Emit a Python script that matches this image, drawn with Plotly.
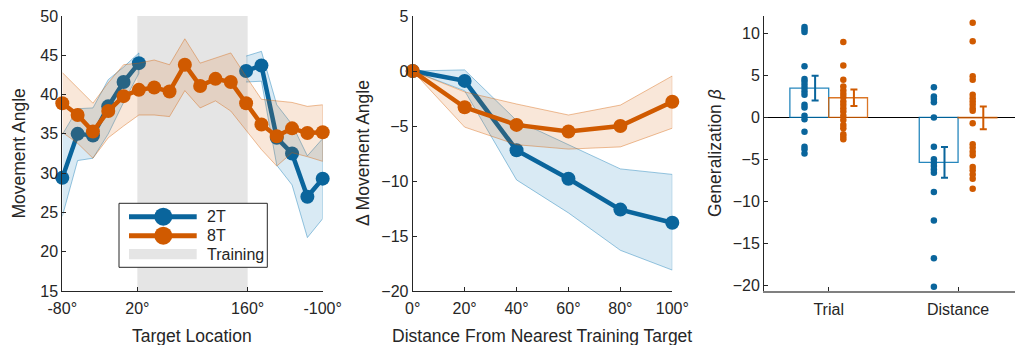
import plotly.graph_objects as go

# ---------------- data ----------------
# Panel 1: movement angle by target location
loc_deg = [-80, -60, -40, -20, 0, 20, 40, 60, 80, 100, 120, 140, 160, 180, 200, 220, 240, 260]
loc_tickvals = [-80, 18, 162, 260]
loc_ticktext = ["-80°", "20°", "160°", "-100°"]
training_span = [18, 162]

t2_mean = [29.4, 35.0, 34.8, 38.5, 41.6, 44.0, None, None, None, None, None, None, 43.0, 43.7, 34.5, 32.5, 27.0, 29.3]
t2_upper = [34.9, 38.2, 38.3, 41.9, 43.5, 45.3, None, None, None, None, None, None, 44.9, 45.5, 38.7, 36.2, 32.2, 34.4]
t2_lower = [24.5, 31.6, 31.9, 35.0, 39.0, 42.7, None, None, None, None, None, None, 41.6, 41.7, 31.0, 28.5, 21.8, 24.2]

t8_mean = [38.9, 37.4, 35.3, 37.9, 39.8, 40.6, 40.9, 40.4, 43.8, 41.1, 42.0, 41.6, 38.9, 36.2, 34.7, 35.7, 35.1, 35.2]
t8_upper = [42.8, 40.8, 38.9, 41.5, 43.8, 44.0, 44.4, 43.8, 47.1, 44.0, 44.7, 45.3, 42.3, 39.4, 39.2, 39.0, 38.5, 38.7]
t8_lower = [35.2, 33.8, 31.9, 34.5, 36.0, 37.4, 37.4, 37.2, 40.5, 38.3, 39.2, 37.9, 35.5, 33.0, 30.9, 32.6, 32.1, 31.5]

# Panel 2: change in movement angle vs distance from nearest training target
dist_deg = [0, 20, 40, 60, 80, 100]
dist_ticktext = ["0°", "20°", "40°", "60°", "80°", "100°"]
d2_mean = [0.0, -0.9, -7.2, -9.8, -12.6, -13.8]
d2_upper = [0.0, 0.1, -4.5, -6.7, -8.9, -9.4]
d2_lower = [0.0, -1.8, -9.9, -12.9, -16.3, -18.1]
d8_mean = [0.0, -3.3, -4.9, -5.5, -5.0, -2.8]
d8_upper = [0.0, -1.9, -3.0, -4.0, -3.1, -0.45]
d8_lower = [0.0, -5.1, -6.7, -7.1, -6.9, -5.2]

# Panel 3: generalization beta
beta_cats = ["Trial", "Distance"]
beta2_mean = [3.5, -5.35]
beta2_sem = [1.47, 1.83]
beta8_mean = [2.35, -0.05]
beta8_sem = [0.98, 1.37]
beta2_trial = [10.8, 10.5, 10.2, 6.1, 4.6, 4.3, 3.9, 3.5, 3.1, 2.7, 1.5, 1.2, 0.2, -0.2, -1.7, -3.5, -3.8, -4.3]
beta8_trial = [9.0, 6.2, 4.5, 3.7, 3.2, 2.8, 2.4, 1.9, 1.5, 1.1, 0.7, 0.2, -0.3, -0.9, -1.3, -2.0, -2.3, -2.6]
beta2_dist = [3.6, 2.5, 2.2, 1.8, 0.0, -3.5, -5.0, -5.4, -5.8, -6.2, -6.6, -8.9, -12.3, -16.8, -20.2]
beta8_dist = [11.3, 9.1, 4.9, 4.5, 2.7, 2.3, 1.9, 1.5, 1.1, 0.8, -0.7, -3.2, -3.6, -4.1, -4.5, -5.9, -6.3, -6.8, -7.3, -8.5]

# ---------------- style ----------------
BLUE = "#0a659c"
ORANGE = "#d05a00"
BLUE_RGB = "0,114,178"
ORANGE_RGB = "213,94,0"
AX = "#262626"
FONT = "Liberation Sans, Arial, Helvetica, sans-serif"
W, H = 1015, 345
T, B = 16, 54


def px(x):
    return x / W


def py(y):
    return (H - B - y) / (H - T - B)


fig = go.Figure()


def add_band(xs, up, lo, rgb, xa, ya):
    seg = []
    segs = []
    for x, u, l in zip(xs, up, lo):
        if u is None:
            if seg:
                segs.append(seg)
            seg = []
        else:
            seg.append((x, u, l))
    if seg:
        segs.append(seg)
    for s in segs:
        xx = [p[0] for p in s] + [p[0] for p in s][::-1]
        yy = [p[1] for p in s] + [p[2] for p in s][::-1]
        fig.add_trace(go.Scatter(x=xx, y=yy, fill="toself", mode="lines",
                                 fillcolor=f"rgba({rgb},0.15)",
                                 line=dict(color=f"rgba({rgb},0.5)", width=0.8),
                                 hoverinfo="skip", showlegend=False, xaxis=xa, yaxis=ya))


def add_line(xs, ys, color, xa, ya):
    fig.add_trace(go.Scatter(x=xs, y=ys, mode="lines+markers", connectgaps=False,
                             line=dict(color=color, width=4.5),
                             marker=dict(color=color, size=14),
                             cliponaxis=False, showlegend=False, xaxis=xa, yaxis=ya))


# Panel 1
add_band(loc_deg, t2_upper, t2_lower, BLUE_RGB, "x", "y")
add_line(loc_deg, t2_mean, BLUE, "x", "y")
add_band(loc_deg, t8_upper, t8_lower, ORANGE_RGB, "x", "y")
add_line(loc_deg, t8_mean, ORANGE, "x", "y")

# Panel 2
add_band(dist_deg, d2_upper, d2_lower, BLUE_RGB, "x2", "y2")
add_line(dist_deg, d2_mean, BLUE, "x2", "y2")
add_band(dist_deg, d8_upper, d8_lower, ORANGE_RGB, "x2", "y2")
add_line(dist_deg, d8_mean, ORANGE, "x2", "y2")

# Panel 3
cat_pos = [i + 1 for i in range(len(beta_cats))]
groups = [
    (beta2_mean, beta2_sem, [beta2_trial, beta2_dist], BLUE, BLUE_RGB, -0.15),
    (beta8_mean, beta8_sem, [beta8_trial, beta8_dist], ORANGE, ORANGE_RGB, 0.15),
]
for mean, sem, pts, col, rgb, off in groups:
    fig.add_trace(go.Bar(x=[c + off for c in cat_pos], y=mean, width=0.3,
                         marker=dict(color="rgba(255,255,255,0)",
                                     line=dict(color=f"rgba({rgb},0.85)", width=1.3)),
                         showlegend=False, xaxis="x3", yaxis="y3"))
for mean, sem, pts, col, rgb, off in groups:
    for c, vals in zip(cat_pos, pts):
        fig.add_trace(go.Scatter(x=[c + off - 0.037] * len(vals), y=vals, mode="markers",
                                 marker=dict(color=col, size=6.5),
                                 cliponaxis=False, showlegend=False, xaxis="x3", yaxis="y3"))
    fig.add_trace(go.Scatter(x=[c + off + 0.045 for c in cat_pos], y=mean, mode="markers",
                             marker=dict(color=col, size=1, opacity=0),
                             error_y=dict(type="data", array=sem, color=col, thickness=2, width=3.5),
                             showlegend=False, xaxis="x3", yaxis="y3"))

# ---------------- layout ----------------
tickfont = dict(family=FONT, size=16, color=AX)
titlefont = dict(family=FONT, size=17.5, color=AX)
base_ax = dict(showline=True, linecolor=AX, linewidth=1, ticks="inside", ticklen=4,
               tickcolor=AX, showgrid=False, zeroline=False, tickfont=tickfont,
               automargin=False)

fig.update_layout(
    template="none",
    width=W, height=H, margin=dict(l=0, r=0, t=T, b=B, pad=0),
    paper_bgcolor="white", plot_bgcolor="white",
    barmode="overlay", showlegend=False,
    font=dict(family=FONT, color=AX),
    xaxis=dict(base_ax, domain=[px(62.3), px(322.7)], range=[-80, 260],
               tickvals=loc_tickvals, ticktext=loc_ticktext, anchor="y", ticklabelstandoff=3),
    yaxis=dict(base_ax, domain=[0, 1], range=[15, 50], tickvals=list(range(15, 51, 5)),
               anchor="x"),
    xaxis2=dict(base_ax, domain=[px(412.7), px(672.3)], range=[0, 100],
                tickvals=dist_deg, ticktext=dist_ticktext, anchor="y2", ticklabelstandoff=3),
    yaxis2=dict(base_ax, domain=[0, 1], range=[-20, 5], tickvals=list(range(-20, 6, 5)),
                anchor="x2"),
    xaxis3=dict(base_ax, domain=[px(764), 1.0], range=[0.5, 2.44], ticklabelstandoff=3,
                tickvals=cat_pos, ticktext=beta_cats, anchor="y3", linecolor="#808080", linewidth=1.5),
    yaxis3=dict(base_ax, domain=[0, 1], range=[-20.7, 12.1], tickvals=list(range(-20, 11, 5)),
                anchor="x3", zeroline=True, zerolinecolor="black", zerolinewidth=1),
)

# Axis titles
ytitles = [("Movement Angle", 18, 153.5), ("Δ Movement Angle", 363, 153), ("Generalization <i>β</i>", 715, 153)]
for txt, xx, yy in ytitles:
    fig.add_annotation(x=px(xx), y=py(yy), xref="paper", yref="paper", text=txt, showarrow=False,
                       textangle=-90, xanchor="center", yanchor="middle", font=titlefont)
xtitles = [("Target Location", 191.5, 336), ("Distance From Nearest Training Target", 542, 336)]
for txt, xx, yy in xtitles:
    fig.add_annotation(x=px(xx), y=py(yy), xref="paper", yref="paper", text=txt, showarrow=False,
                       xanchor="center", yanchor="middle", font=titlefont)

# Training region
fig.add_shape(type="rect", xref="x", yref="y domain", x0=training_span[0], x1=training_span[1],
              y0=0, y1=1, fillcolor="#e5e5e5", line=dict(width=0), layer="below")

# Custom legend (panel 1)
fig.add_shape(type="rect", xref="paper", yref="paper", x0=px(119), x1=px(267.3),
              y0=py(267.3), y1=py(203.3), fillcolor="white", line=dict(color=AX, width=1), layer="above")
rows = [(216.7, BLUE, "2T"), (235.7, ORANGE, "8T")]
for ry, col, lab in rows:
    fig.add_shape(type="line", xref="paper", yref="paper", x0=px(129), x1=px(196.7),
                  y0=py(ry), y1=py(ry), line=dict(color=col, width=5), layer="above")
    fig.add_shape(type="circle", xref="paper", yref="paper", xsizemode="pixel", ysizemode="pixel",
                  xanchor=px(163.3), yanchor=py(ry), x0=-9, x1=9, y0=-9, y1=9,
                  fillcolor=col, line=dict(color=col, width=0), layer="above")
    fig.add_annotation(x=px(205), y=py(ry), xref="paper", yref="paper", text=lab, showarrow=False,
                       xanchor="left", yanchor="middle", font=dict(family=FONT, size=16, color=AX))
fig.add_shape(type="rect", xref="paper", yref="paper", x0=px(129), x1=px(196.7),
              y0=py(259.3), y1=py(249), fillcolor="#e5e5e5", line=dict(width=0), layer="above")
fig.add_annotation(x=px(205), y=py(254), xref="paper", yref="paper", text="Training", showarrow=False,
                   xanchor="left", yanchor="middle", font=dict(family=FONT, size=16, color=AX))

fig.write_html("out.html", config={"displayModeBar": False},
               post_script="document.body.style.margin='0';document.body.style.overflow='hidden';")
